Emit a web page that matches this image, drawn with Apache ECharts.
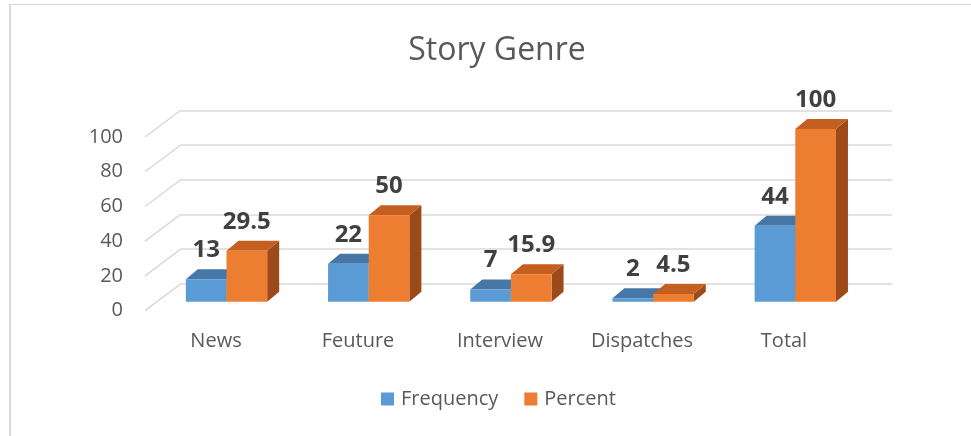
<!DOCTYPE html>
<html>
<head>
<meta charset="utf-8">
<title>Story Genre</title>
<script src="https://cdn.jsdelivr.net/npm/echarts@6/dist/echarts.min.js"></script>
<style>
  html, body { margin: 0; padding: 0; background: #fff; }
  #chart { width: 971px; height: 436px; }
</style>
</head>
<body>
<div id="chart"></div>
<script>
// 数据
var categories = ['News', 'Feuture', 'Interview', 'Dispatches', 'Total']
var frequency = [13, 22, 7, 2, 44]
var percent = [29.5, 50, 15.9, 4.5, 100]
var yTicks = [0, 20, 40, 60, 80, 100]

var FONT = '"Open Sans", "DejaVu Sans", sans-serif'
var TEXT_COLOR = '#595959'
var GRID_COLOR = '#d9d9d9'
// 3D 偏移
var DEPTH_X = 12
var DEPTH_Y = -10

var colors = {
  Frequency: { front: '#5b9bd5', top: '#4677a6', side: '#3e6a95' },
  Percent: { front: '#ed7d31', top: '#c45f1f', side: '#9c4a1a' }
}

function barRenderer(name, pos) {
  var c = colors[name]
  return function (params, api) {
    var idx = api.value(0)
    var v = api.value(1)
    var base = api.coord([idx, 0])
    var tip = api.coord([idx, v])
    var band = api.size([1, 0])[0]
    var w = band * 0.286
    var x0 = pos === 0 ? base[0] - w : base[0]
    var x1 = x0 + w
    var y0 = base[1]
    var y1 = tip[1]
    return {
      type: 'group',
      children: [{
        type: 'polygon',
        shape: { points: [[x1, y1], [x1 + DEPTH_X, y1 + DEPTH_Y], [x1 + DEPTH_X, y0 + DEPTH_Y], [x1, y0]] },
        style: { fill: c.side }
      }, {
        type: 'polygon',
        shape: { points: [[x0, y1], [x1, y1], [x1 + DEPTH_X, y1 + DEPTH_Y], [x0 + DEPTH_X, y1 + DEPTH_Y]] },
        style: { fill: c.top }
      }, {
        type: 'rect',
        shape: { x: x0, y: y1, width: w, height: y0 - y1 },
        style: { fill: c.front }
      }, {
        type: 'text',
        style: {
          text: String(v),
          x: (x0 + x1) / 2,
          y: y1 - 29,
          align: 'center',
          verticalAlign: 'middle',
          fill: '#404040',
          fontSize: 24,
          fontWeight: 'bold',
          fontFamily: FONT
        }
      }]
    }
  }
}

var myChart = echarts.init(document.getElementById('chart'))

var option = {
  animation: false,
  backgroundColor: '#fff',
  title: {
    text: 'Story Genre',
    left: 492,
    textAlign: 'center',
    top: 30,
    textStyle: { color: TEXT_COLOR, fontSize: 32, fontWeight: 'normal', fontFamily: FONT }
  },
  legend: {
    data: ['Frequency', 'Percent'],
    left: 376,
    top: 384,
    icon: 'rect',
    itemWidth: 13,
    itemHeight: 13,
    itemGap: 26,
    textStyle: { color: TEXT_COLOR, fontSize: 20, fontFamily: FONT, padding: [0, 0, 0, 2] }
  },
  graphic: [{
    type: 'line',
    shape: { x1: 10, y1: 4.5, x2: 971, y2: 4.5 },
    style: { stroke: GRID_COLOR, lineWidth: 1 }
  }, {
    type: 'line',
    shape: { x1: 10, y1: 4, x2: 10, y2: 436 },
    style: { stroke: GRID_COLOR, lineWidth: 2 }
  }],
  grid: [
    // 前沿（坐标标签）
    { left: 145, right: 116, top: 137, bottom: 125.3 },
    // 柱体平面
    { left: 155.4, right: 104.6, top: 129, bottom: 134.3 },
    // 后墙
    { left: 181, right: 79, top: 110.7, bottom: 152.7 }
  ],
  xAxis: [{
    gridIndex: 0,
    type: 'category',
    data: categories,
    axisLine: { show: false },
    axisTick: { show: false },
    axisLabel: { margin: 21, fontSize: 20, color: TEXT_COLOR, fontFamily: FONT }
  }, {
    gridIndex: 1,
    type: 'category',
    data: categories,
    show: false
  }, {
    gridIndex: 2,
    type: 'category',
    data: categories,
    show: false
  }],
  yAxis: [{
    gridIndex: 0,
    type: 'value',
    min: 0,
    max: 100,
    interval: 20,
    axisLine: { show: false },
    axisTick: { show: false },
    splitLine: { show: false },
    axisLabel: { margin: 22, fontSize: 20, color: TEXT_COLOR, fontFamily: FONT }
  }, {
    gridIndex: 1,
    type: 'value',
    min: 0,
    max: 100,
    interval: 20,
    show: false
  }, {
    gridIndex: 2,
    type: 'value',
    min: 0,
    max: 100,
    interval: 20,
    axisLine: { show: false },
    axisTick: { show: false },
    axisLabel: { show: false },
    splitLine: { lineStyle: { color: GRID_COLOR, width: 1.5 } }
  }],
  series: [{
    // 侧墙斜线
    name: 'sideWall',
    type: 'custom',
    xAxisIndex: 0,
    yAxisIndex: 0,
    silent: true,
    data: yTicks.map(function (v) { return [0, v] }),
    renderItem: function (params, api) {
      var y = api.coord([0, api.value(1)])[1]
      var x = params.coordSys.x
      return {
        type: 'line',
        shape: { x1: x, y1: y, x2: x + 36, y2: y - 27 },
        style: { stroke: GRID_COLOR, lineWidth: 1.5 }
      }
    }
  }, {
    name: 'Frequency',
    type: 'custom',
    xAxisIndex: 1,
    yAxisIndex: 1,
    clip: false,
    itemStyle: { color: colors.Frequency.front },
    data: categories.map(function (c, i) { return [i, frequency[i]] }),
    renderItem: barRenderer('Frequency', 0)
  }, {
    name: 'Percent',
    type: 'custom',
    xAxisIndex: 1,
    yAxisIndex: 1,
    clip: false,
    itemStyle: { color: colors.Percent.front },
    data: categories.map(function (c, i) { return [i, percent[i]] }),
    renderItem: barRenderer('Percent', 1)
  }]
}

myChart.setOption(option)
window.addEventListener('resize', function () {
  myChart.resize()
})
</script>
</body>
</html>
